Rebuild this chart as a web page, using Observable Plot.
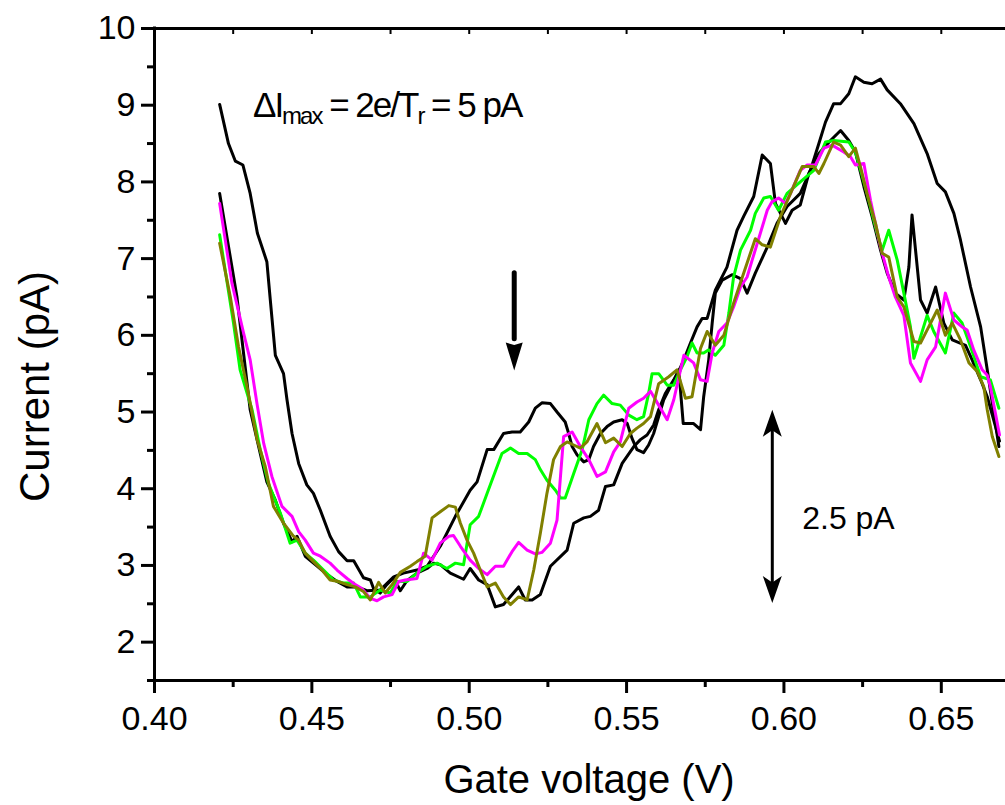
<!DOCTYPE html>
<html><head><meta charset="utf-8">
<script src="https://cdn.jsdelivr.net/npm/d3@7"></script>
<script src="https://cdn.jsdelivr.net/npm/@observablehq/plot@0.6"></script>
<style>body{margin:0;background:#fff}#chart svg{display:block}</style>
</head><body><div id="chart"></div>
<script>
// ---- data: [gate voltage (V), current (pA)] ----
const blackA = [[0.4207,9.01],[0.4235,8.50],[0.4257,8.27],[0.4281,8.22],[0.4304,7.85],[0.4327,7.33],[0.4357,6.96],[0.4368,6.46],[0.4384,5.74],[0.4410,5.50],[0.4421,5.16],[0.4437,4.72],[0.4458,4.33],[0.4484,4.05],[0.4505,3.94],[0.4527,3.72],[0.4558,3.38],[0.4585,3.18],[0.4612,3.06],[0.4633,3.06],[0.4664,2.84],[0.4686,2.81],[0.4696,2.70],[0.4717,2.64],[0.4738,2.75],[0.4760,2.84],[0.4781,2.67],[0.4802,2.80],[0.4834,2.90],[0.4866,2.96],[0.4887,3.03],[0.4908,3.01],[0.4940,2.90],[0.4982,2.82],[0.5003,2.96],[0.5030,2.81],[0.5057,2.75],[0.5083,2.46],[0.5109,2.49],[0.5157,2.72],[0.5178,2.55],[0.5200,2.55],[0.5226,2.62],[0.5258,2.99],[0.5311,3.20],[0.5332,3.55],[0.5364,3.62],[0.5385,3.64],[0.5411,3.72],[0.5433,4.03],[0.5459,4.05],[0.5486,4.33],[0.5523,4.55],[0.5544,4.64],[0.5565,4.70],[0.5586,4.83],[0.5602,5.03],[0.5623,5.24],[0.5650,5.42],[0.5666,5.55],[0.5680,4.85],[0.5713,4.85],[0.5735,4.77],[0.5745,5.20],[0.5761,5.68],[0.5772,6.16],[0.5782,6.55],[0.5804,6.72],[0.5835,6.79],[0.5862,6.74],[0.5883,6.55],[0.5909,6.81],[0.5947,7.15],[0.5978,7.46],[0.6010,7.68],[0.6052,7.85],[0.6084,8.15],[0.6111,8.50],[0.6132,8.78],[0.6158,9.02],[0.6180,9.02],[0.6206,9.15],[0.6227,9.37],[0.6254,9.30],[0.6280,9.28],[0.6307,9.34],[0.6328,9.20],[0.6370,9.02],[0.6413,8.76],[0.6455,8.37],[0.6487,7.98],[0.6513,7.87],[0.6540,7.59],[0.6561,7.24],[0.6593,6.63],[0.6625,6.11],[0.6646,5.55],[0.6683,4.55]];
const blackB = [[0.4207,7.85],[0.4262,6.50],[0.4288,5.59],[0.4304,5.03],[0.4331,4.55],[0.4357,4.09],[0.4384,3.85],[0.4410,3.55],[0.4437,3.31],[0.4453,3.38],[0.4479,3.12],[0.4511,3.01],[0.4543,2.90],[0.4580,2.79],[0.4612,2.72],[0.4643,2.72],[0.4675,2.67],[0.4717,2.68],[0.4760,2.85],[0.4791,2.90],[0.4834,2.94],[0.4866,2.99],[0.4887,3.12],[0.4908,3.25],[0.4956,3.64],[0.5003,3.98],[0.5025,4.09],[0.5057,4.51],[0.5078,4.51],[0.5109,4.72],[0.5136,4.74],[0.5162,4.74],[0.5189,4.87],[0.5210,5.05],[0.5231,5.12],[0.5258,5.11],[0.5279,5.00],[0.5305,4.87],[0.5316,4.72],[0.5327,4.55],[0.5343,4.44],[0.5364,4.35],[0.5380,4.38],[0.5395,4.55],[0.5417,4.72],[0.5438,4.81],[0.5459,4.87],[0.5486,4.90],[0.5502,4.85],[0.5517,4.66],[0.5533,4.51],[0.5554,4.47],[0.5570,4.57],[0.5586,4.72],[0.5602,4.94],[0.5618,5.16],[0.5639,5.33],[0.5660,5.48],[0.5682,5.68],[0.5703,5.90],[0.5724,6.11],[0.5740,6.22],[0.5756,6.22],[0.5782,6.59],[0.5819,6.89],[0.5851,7.37],[0.5872,7.55],[0.5904,7.81],[0.5931,8.35],[0.5957,8.24],[0.5973,7.72],[0.6005,7.46],[0.6026,7.63],[0.6052,7.70],[0.6079,8.11],[0.6111,8.37],[0.6148,8.54],[0.6180,8.67],[0.6206,8.54],[0.6227,8.39],[0.6254,7.94],[0.6280,7.55],[0.6307,7.11],[0.6328,6.81],[0.6354,6.55],[0.6381,6.46],[0.6397,6.89],[0.6407,7.57],[0.6434,6.46],[0.6455,6.29],[0.6482,6.63],[0.6508,6.16],[0.6535,5.94],[0.6577,5.87],[0.6598,5.68],[0.6625,5.42],[0.6646,5.20],[0.6685,4.62]];
const green = [[0.4207,7.31],[0.4251,6.16],[0.4272,5.55],[0.4310,5.03],[0.4336,4.51],[0.4362,4.07],[0.4400,3.68],[0.4431,3.29],[0.4453,3.33],[0.4479,3.16],[0.4505,3.07],[0.4537,2.94],[0.4569,2.81],[0.4601,2.77],[0.4633,2.77],[0.4654,2.59],[0.4686,2.59],[0.4717,2.68],[0.4749,2.64],[0.4771,2.79],[0.4802,2.79],[0.4834,2.90],[0.4866,2.99],[0.4898,3.03],[0.4929,2.96],[0.4956,3.03],[0.4982,3.01],[0.5003,3.53],[0.5030,3.64],[0.5057,3.94],[0.5104,4.46],[0.5131,4.53],[0.5157,4.46],[0.5184,4.46],[0.5210,4.38],[0.5226,4.25],[0.5247,4.11],[0.5274,3.98],[0.5290,3.88],[0.5305,3.88],[0.5332,4.20],[0.5359,4.51],[0.5380,4.90],[0.5406,5.11],[0.5427,5.22],[0.5454,5.11],[0.5480,5.09],[0.5507,4.96],[0.5533,4.90],[0.5554,4.94],[0.5570,5.24],[0.5581,5.50],[0.5602,5.50],[0.5629,5.35],[0.5650,5.35],[0.5671,5.55],[0.5692,5.72],[0.5708,5.90],[0.5724,5.77],[0.5745,5.77],[0.5761,5.81],[0.5782,5.74],[0.5809,5.87],[0.5825,6.29],[0.5840,6.76],[0.5862,7.11],[0.5894,7.37],[0.5909,7.59],[0.5936,7.79],[0.5957,7.81],[0.5983,7.63],[0.6010,7.85],[0.6052,8.00],[0.6095,8.15],[0.6132,8.52],[0.6158,8.54],[0.6206,8.52],[0.6227,8.39],[0.6238,8.24],[0.6264,7.85],[0.6296,7.33],[0.6312,7.11],[0.6333,7.37],[0.6360,6.98],[0.6381,6.55],[0.6402,6.11],[0.6413,5.70],[0.6428,5.90],[0.6455,6.26],[0.6476,6.05],[0.6513,5.77],[0.6540,6.29],[0.6566,6.16],[0.6593,5.85],[0.6625,5.46],[0.6656,5.42],[0.6672,5.20],[0.6683,5.05]];
const magenta = [[0.4207,7.72],[0.4246,6.68],[0.4283,6.03],[0.4304,5.68],[0.4326,5.10],[0.4347,4.59],[0.4373,4.16],[0.4405,3.77],[0.4437,3.64],[0.4458,3.44],[0.4479,3.33],[0.4505,3.16],[0.4527,3.12],[0.4558,3.03],[0.4580,2.94],[0.4612,2.83],[0.4638,2.75],[0.4659,2.70],[0.4686,2.57],[0.4707,2.54],[0.4728,2.59],[0.4755,2.62],[0.4776,2.79],[0.4797,2.81],[0.4834,2.83],[0.4855,3.16],[0.4882,3.07],[0.4908,3.29],[0.4935,3.38],[0.4950,3.39],[0.4972,3.25],[0.5003,3.07],[0.5030,2.96],[0.5057,2.88],[0.5083,2.99],[0.5109,2.99],[0.5136,3.18],[0.5157,3.30],[0.5184,3.20],[0.5210,3.15],[0.5231,3.17],[0.5258,3.29],[0.5279,3.59],[0.5290,4.16],[0.5300,4.68],[0.5327,4.74],[0.5353,4.55],[0.5380,4.38],[0.5406,4.16],[0.5433,4.22],[0.5459,4.48],[0.5480,4.61],[0.5507,5.05],[0.5533,5.13],[0.5554,5.18],[0.5576,5.27],[0.5602,5.09],[0.5629,4.90],[0.5650,5.16],[0.5682,5.74],[0.5713,5.64],[0.5735,5.42],[0.5756,5.40],[0.5772,5.77],[0.5793,6.05],[0.5819,6.16],[0.5840,6.37],[0.5862,6.63],[0.5883,6.76],[0.5899,6.98],[0.5925,7.33],[0.5947,7.63],[0.5962,7.74],[0.5983,7.79],[0.6005,7.72],[0.6021,7.85],[0.6052,8.15],[0.6074,8.22],[0.6100,8.22],[0.6127,8.44],[0.6153,8.48],[0.6190,8.39],[0.6211,8.33],[0.6227,8.22],[0.6254,8.24],[0.6275,7.76],[0.6307,7.15],[0.6333,6.76],[0.6354,6.50],[0.6381,6.26],[0.6402,5.64],[0.6434,5.40],[0.6455,5.68],[0.6482,5.85],[0.6513,6.55],[0.6540,6.20],[0.6566,6.11],[0.6582,6.07],[0.6603,5.81],[0.6630,5.55],[0.6646,5.48],[0.6656,5.33],[0.6685,4.70]];
const olive = [[0.4207,7.20],[0.4241,6.50],[0.4267,5.85],[0.4294,5.33],[0.4305,5.10],[0.4326,4.64],[0.4352,4.29],[0.4378,3.77],[0.4410,3.55],[0.4442,3.38],[0.4458,3.33],[0.4479,3.16],[0.4505,3.05],[0.4532,2.94],[0.4558,2.81],[0.4585,2.79],[0.4612,2.75],[0.4638,2.72],[0.4664,2.66],[0.4686,2.55],[0.4712,2.78],[0.4733,2.64],[0.4755,2.75],[0.4781,2.91],[0.4813,2.99],[0.4834,3.05],[0.4860,3.12],[0.4882,3.62],[0.4908,3.70],[0.4935,3.78],[0.4956,3.76],[0.4972,3.55],[0.4993,3.33],[0.5014,3.16],[0.5035,2.94],[0.5057,2.72],[0.5083,2.77],[0.5109,2.59],[0.5131,2.49],[0.5157,2.59],[0.5184,2.55],[0.5205,2.94],[0.5226,3.42],[0.5247,3.94],[0.5268,4.38],[0.5290,4.55],[0.5311,4.61],[0.5332,4.57],[0.5353,4.53],[0.5374,4.61],[0.5406,4.85],[0.5433,4.60],[0.5459,4.66],[0.5486,4.55],[0.5512,4.72],[0.5533,4.79],[0.5554,4.85],[0.5576,4.94],[0.5602,5.37],[0.5634,5.46],[0.5660,5.55],[0.5687,5.18],[0.5708,5.20],[0.5735,5.83],[0.5756,6.05],[0.5782,5.87],[0.5809,6.00],[0.5840,6.42],[0.5872,6.81],[0.5909,7.26],[0.5931,7.18],[0.5957,7.15],[0.5989,7.55],[0.6021,7.85],[0.6058,8.20],[0.6095,8.20],[0.6111,8.11],[0.6127,8.24],[0.6158,8.52],[0.6180,8.48],[0.6206,8.33],[0.6227,8.44],[0.6243,8.20],[0.6264,7.85],[0.6291,7.46],[0.6312,7.07],[0.6333,7.02],[0.6360,6.50],[0.6381,6.37],[0.6413,5.92],[0.6434,5.90],[0.6460,6.11],[0.6487,6.33],[0.6513,6.00],[0.6535,6.16],[0.6561,5.94],[0.6588,5.64],[0.6614,5.53],[0.6635,5.33],[0.6646,5.03],[0.6662,4.68],[0.6683,4.42]];

const seriesOrder = [["blackA", blackA, "#000000"], ["blackB", blackB, "#000000"], ["green", green, "#00ff00"], ["magenta", magenta, "#ff00ff"], ["olive", olive, "#808000"]];

const xDomain = [0.40, 0.6704];
const yDomain = [1.5, 10];
const xMajorTicks = [0.40, 0.45, 0.50, 0.55, 0.60, 0.65];
const xMinorTicks = [0.425, 0.475, 0.525, 0.575, 0.625];
const yMajorTicks = [2, 3, 4, 5, 6, 7, 8, 9, 10];
const yMinorTicks = [1.5, 2.5, 3.5, 4.5, 5.5, 6.5, 7.5, 8.5, 9.5];
const xLabel = "Gate voltage (V)";
const yLabel = "Current (pA)";
const annotParts = [["ΔI", false], ["max", true], [" = 2e/T", false], ["r", true], [" = 5 pA", false]];
const annotText = annotParts.map(d => d[0]).join("");
const scaleText = "2.5 pA";

// arrowhead symbols (tip at origin)
function arrowHead(dir, lenK, notchK) {
  return {draw(ctx, size) {
    const r = Math.sqrt(size / Math.PI);
    const L = lenK * r, N = notchK * r;
    ctx.moveTo(0, 0);
    ctx.lineTo(-r, -dir * L);
    ctx.lineTo(0, -dir * (L - N));
    ctx.lineTo(r, -dir * L);
    ctx.closePath();
  }};
}
const headDownThin = arrowHead(1, 2.85, 0.7);
const headUpThin = arrowHead(-1, 2.85, 0.7);
const headDownBold = arrowHead(1, 3.3, 0.3);

const lineMarks = seriesOrder.map(([name, pts, color]) =>
  Plot.line(pts, {x: d => d[0], y: d => d[1], stroke: color, strokeWidth: 3, strokeLinejoin: "round"}));

const svg = Plot.plot({
  width: 1005, height: 805,
  marginLeft: 154, marginRight: 0, marginTop: 28, marginBottom: 125,
  style: {fontFamily: "'Liberation Sans', Arial, sans-serif", fontSize: "34px", background: "#fff", color: "#000"},
  x: {domain: xDomain},
  y: {domain: yDomain},
  marks: [
    Plot.axisX(xMajorTicks, {tickSize: 13, tickPadding: 12, fontSize: 34, tickFormat: d3.format(".2f"), strokeWidth: 3, label: null}),
    Plot.axisX(xMinorTicks, {tickSize: 7, tickFormat: () => "", strokeWidth: 3, label: null}),
    Plot.axisX([...xMajorTicks, ...xMinorTicks], {anchor: "top", tickSize: -5, tickFormat: () => "", strokeWidth: 2, label: null}),
    Plot.axisY(yMajorTicks, {tickSize: 13, tickPadding: 6, fontSize: 34, tickFormat: d => String(d), strokeWidth: 3, label: null}),
    Plot.axisY(yMinorTicks, {tickSize: 7, tickFormat: () => "", strokeWidth: 3, label: null}),
    Plot.ruleY(yDomain, {strokeWidth: 3, strokeLinecap: "square"}),
    Plot.ruleX([xDomain[0]], {strokeWidth: 3, strokeLinecap: "square"}),
    ...lineMarks,
    // vertical double arrow (2.5 pA scale bar)
    Plot.ruleX([0.5963], {y1: 2.62, y2: 4.92, strokeWidth: 3}),
    Plot.dot([5.03], {x: () => 0.5963, y: d => d, symbol: headUpThin, r: 9.5, fill: "#000", stroke: "none"}),
    Plot.dot([2.51], {x: () => 0.5963, y: d => d, symbol: headDownThin, r: 9.5, fill: "#000", stroke: "none"}),
    // bold down arrow
    Plot.ruleX([0.5143], {y1: 6.81, y2: 5.95, strokeWidth: 5, strokeLinecap: "round"}),
    Plot.dot([5.54], {x: () => 0.5143, y: d => d, symbol: headDownBold, r: 8.5, fill: "#000", stroke: "none"}),
    // texts
    Plot.text([scaleText], {x: () => 0.6058, y: () => 3.606, textAnchor: "start", fontSize: 32}),
    Plot.text([annotText], {x: () => 0.4313, y: () => 8.988, textAnchor: "start", fontSize: 35}),
    Plot.text([xLabel], {frameAnchor: "bottom", textAnchor: "middle", lineAnchor: "middle", dx: 9, dy: 99.5, fontSize: 40}),
    Plot.text([yLabel], {frameAnchor: "left", textAnchor: "middle", lineAnchor: "middle", rotate: -90, dx: -119, dy: 32, fontSize: 42})
  ]
});
document.getElementById("chart").append(svg);

// subscripts in the annotation
const NS = "http://www.w3.org/2000/svg";
svg.querySelectorAll("text").forEach(t => {
  if (t.textContent === annotText) {
    t.textContent = "";
    t.setAttribute("letter-spacing", "-2");
    let shifted = false;
    for (const [s, sub] of annotParts) {
      const ts = document.createElementNS(NS, "tspan");
      ts.textContent = s;
      if (sub) { ts.setAttribute("font-size", "24"); if (!shifted) { ts.setAttribute("dy", "6.5"); shifted = true; } }
      else if (shifted) { ts.setAttribute("dy", "-6.5"); shifted = false; }
      t.appendChild(ts);
    }
  }
});
</script>
</body></html>
